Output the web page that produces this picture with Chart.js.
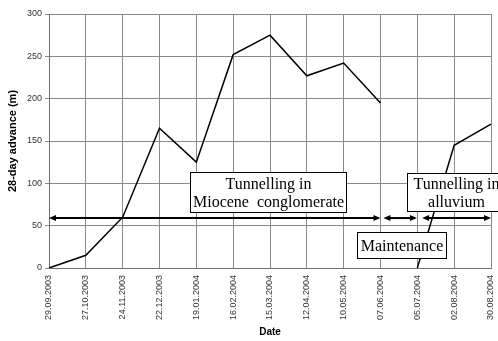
<!DOCTYPE html>
<html>
<head>
<meta charset="utf-8">
<script src="https://cdn.jsdelivr.net/npm/chart.js@4"></script>
<style>
  body { margin: 0; background: #fff; }
  #wrap { width: 498px; height: 341px; }
</style>
</head>
<body>
<div id="wrap"><canvas id="advanceChart"></canvas></div>
<script>
// Dados do gráfico
const dateLabels = ['29.09.2003', '27.10.2003', '24.11.2003', '22.12.2003', '19.01.2004', '16.02.2004',
  '15.03.2004', '12.04.2004', '10.05.2004', '07.06.2004', '05.07.2004', '02.08.2004', '30.08.2004'];
const conglomerateAdvance = [0, 15, 60, 165, 125, 252, 275, 227, 242, 195, null, null, null];
const alluviumAdvance = [null, null, null, null, null, null, null, null, null, null, 0, 145, 170];
const yTicks = [0, 50, 100, 150, 200, 250, 300];

// Fases (posição em índice de categoria / valor)
const phaseArrows = [
  { from: 0, to: 9, value: 59 },
  { from: 9.08, to: 9.99, value: 59 },
  { from: 10.13, to: 12, value: 59 }
];
const phaseBoxes = [
  { lines: ['Tunnelling in', 'Miocene  conglomerate'], x0: 3.83, x1: 8.06, top: 113.4, bottom: 66.1 },
  { lines: ['Maintenance'], x0: 8.36, x1: 10.78, top: 42.5, bottom: 11.8 },
  { lines: ['Tunnelling in', 'alluvium'], x0: 9.72, x1: 12.38, top: 112.2, bottom: 67.3 }
];

const phasePlugin = {
  id: 'phases',
  afterDatasetsDraw(chart) {
    const c = chart.ctx;
    const xs = chart.scales.x, ys = chart.scales.y;
    c.save();
    // caixas de texto
    phaseBoxes.forEach(b => {
      const l = Math.round(xs.getPixelForValue(b.x0)) + 0.5;
      const r = Math.round(xs.getPixelForValue(b.x1)) + 0.5;
      const t = Math.round(ys.getPixelForValue(b.top)) + 0.5;
      const bt = Math.round(ys.getPixelForValue(b.bottom)) + 0.5;
      c.fillStyle = '#fff';
      c.fillRect(l, t, r - l, bt - t);
      c.strokeStyle = '#000';
      c.lineWidth = 1;
      c.strokeRect(l, t, r - l, bt - t);
      c.fillStyle = '#000';
      c.font = '16px "Liberation Serif", "Times New Roman", serif';
      c.textAlign = 'center';
      c.textBaseline = 'middle';
      const cx = (l + r) / 2, cy = (t + bt) / 2;
      const lh = 18;
      b.lines.forEach((txt, i) => {
        c.fillText(txt, cx, cy + (i - (b.lines.length - 1) / 2) * lh + 1);
      });
    });
    // setas duplas
    phaseArrows.forEach(a => {
      const x0 = xs.getPixelForValue(a.from);
      const x1 = xs.getPixelForValue(a.to);
      const y = ys.getPixelForValue(a.value);
      c.strokeStyle = '#000';
      c.fillStyle = '#000';
      c.lineWidth = 2;
      c.beginPath();
      c.moveTo(x0 + 4, y);
      c.lineTo(x1 - 4, y);
      c.stroke();
      [[x0, 1], [x1, -1]].forEach(([x, d]) => {
        c.beginPath();
        c.moveTo(x, y);
        c.lineTo(x + d * 7, y - 3);
        c.lineTo(x + d * 7, y + 3);
        c.closePath();
        c.fill();
      });
    });
    c.restore();
  }
};

const ctx = document.getElementById('advanceChart').getContext('2d');
const advanceChart = new Chart(ctx, {
  type: 'line',
  data: {
    labels: dateLabels,
    datasets: [{
      label: 'Miocene conglomerate',
      data: conglomerateAdvance,
      borderColor: '#000',
      borderWidth: 1.5,
      pointRadius: 0,
      fill: false,
      spanGaps: false
    }, {
      label: 'Alluvium',
      data: alluviumAdvance,
      borderColor: '#000',
      borderWidth: 1.5,
      pointRadius: 0,
      fill: false,
      spanGaps: false
    }]
  },
  options: {
    responsive: true,
    maintainAspectRatio: false,
    animation: { duration: 0 },
    events: [],
    layout: { padding: { top: 14, right: 7, left: 0, bottom: 0 } },
    font: { family: '"Liberation Sans", Arial, sans-serif' },
    elements: { line: { tension: 0 } },
    plugins: {
      legend: { display: false },
      tooltip: { enabled: false }
    },
    scales: {
      x: {
        offset: false,
        afterFit: s => { s.height = 73; s.paddingLeft = 0; s.paddingRight = 0; },
        grid: { color: '#8a8a8a', lineWidth: 1, drawTicks: false },
        border: { color: '#707070' },
        ticks: {
          color: '#333',
          font: { size: 9, family: '"Liberation Sans", Arial, sans-serif' },
          minRotation: 90,
          maxRotation: 90,
          autoSkip: false,
          padding: 7
        },
        title: {
          display: true,
          text: 'Date',
          color: '#000',
          font: { size: 10, weight: 'bold', family: '"Liberation Sans", Arial, sans-serif' },
          padding: { top: 0, bottom: 3 }
        }
      },
      y: {
        min: 0,
        max: 300,
        afterFit: s => { s.width = 49; s.paddingTop = 0; s.paddingBottom = 0; },
        afterBuildTicks: s => { s.ticks = yTicks.map(v => ({ value: v })); },
        grid: { color: '#8a8a8a', lineWidth: 1, tickLength: 4 },
        border: { color: '#707070' },
        ticks: {
          color: '#333',
          font: { size: 9, family: '"Liberation Sans", Arial, sans-serif' },
          padding: 3
        },
        title: {
          display: true,
          text: '28-day advance (m)',
          color: '#000',
          font: { size: 11, weight: 'bold', family: '"Liberation Sans", Arial, sans-serif' },
          padding: { top: 6, bottom: 0 }
        }
      }
    }
  },
  plugins: [phasePlugin]
});
</script>
</body>
</html>
